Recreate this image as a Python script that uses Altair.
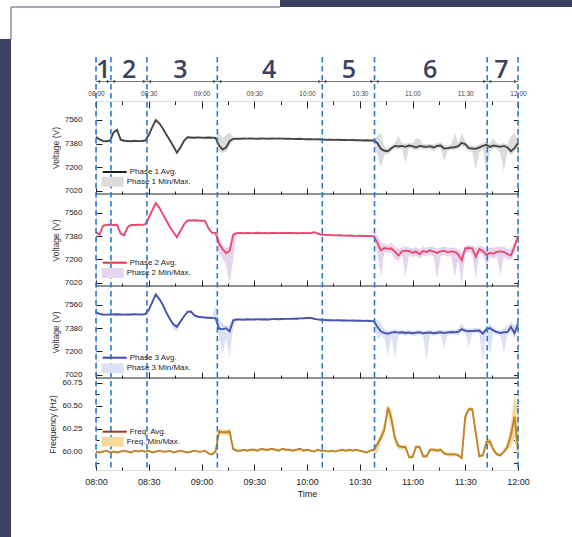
import altair as alt
import pandas as pd

# ---------------- data (minutes after 08:00, 2-minute grid) ----------------
T = list(range(0, 241, 2))

P1_AVG = [7430, 7412, 7400, 7398, 7402, 7465, 7485, 7410, 7402, 7400,
          7398, 7401, 7399, 7400, 7403, 7445, 7505, 7560, 7535, 7495,
          7450, 7405, 7360, 7310, 7350, 7400, 7428, 7426, 7424, 7427,
          7425, 7424, 7426, 7425, 7423, 7365, 7335, 7350, 7400, 7416,
          7418, 7417, 7419, 7418, 7420, 7418, 7417, 7419, 7418, 7417,
          7419, 7418, 7420, 7418, 7417, 7418, 7416, 7415, 7417, 7414,
          7413, 7414, 7412, 7413, 7411, 7410, 7409, 7410, 7408, 7409,
          7407, 7408, 7406, 7407, 7405, 7406, 7404, 7405, 7404, 7403,
          7385, 7340, 7325, 7322, 7345, 7362, 7358, 7362, 7355, 7365,
          7360, 7350, 7362, 7358, 7355, 7360, 7350, 7362, 7365, 7342,
          7345, 7350, 7352, 7360, 7385, 7375, 7345, 7342, 7340, 7350,
          7362, 7370, 7355, 7365, 7360, 7355, 7362, 7350, 7322, 7345,
          7385]
P1_MIN = [7420, 7404, 7393, 7391, 7394, 7455, 7475, 7400, 7395, 7393,
          7391, 7394, 7392, 7393, 7395, 7436, 7496, 7550, 7526, 7486,
          7441, 7396, 7351, 7300, 7341, 7391, 7420, 7419, 7417, 7420,
          7418, 7417, 7419, 7418, 7416, 7320, 7310, 7315, 7370, 7405,
          7413, 7412, 7414, 7413, 7415, 7413, 7412, 7414, 7413, 7412,
          7414, 7413, 7415, 7413, 7412, 7413, 7411, 7410, 7412, 7409,
          7408, 7409, 7407, 7408, 7406, 7405, 7404, 7405, 7403, 7404,
          7402, 7403, 7401, 7402, 7400, 7401, 7399, 7400, 7399, 7396,
          7300, 7195, 7290, 7300, 7325, 7340, 7338, 7340, 7230, 7345,
          7338, 7330, 7342, 7336, 7335, 7338, 7320, 7340, 7345, 7245,
          7325, 7330, 7332, 7338, 7360, 7350, 7320, 7318, 7180, 7310,
          7340, 7145, 7320, 7342, 7338, 7300, 7165, 7320, 7290, 7320,
          7360]
P1_MAX = [7440, 7420, 7407, 7405, 7410, 7475, 7495, 7420, 7409, 7407,
          7405, 7408, 7406, 7407, 7411, 7454, 7514, 7570, 7544, 7504,
          7459, 7414, 7369, 7320, 7359, 7409, 7436, 7433, 7431, 7434,
          7432, 7431, 7433, 7432, 7430, 7470, 7420, 7445, 7465, 7428,
          7423, 7422, 7424, 7423, 7425, 7423, 7422, 7424, 7423, 7422,
          7424, 7423, 7425, 7423, 7422, 7423, 7421, 7420, 7422, 7419,
          7418, 7419, 7417, 7418, 7416, 7415, 7414, 7415, 7413, 7414,
          7412, 7413, 7411, 7412, 7410, 7411, 7409, 7410, 7409, 7410,
          7440, 7460, 7360, 7345, 7365, 7385, 7440, 7385, 7378, 7385,
          7380, 7420, 7415, 7378, 7375, 7380, 7372, 7385, 7390, 7365,
          7365, 7372, 7460, 7385, 7460, 7400, 7368, 7365, 7362, 7372,
          7385, 7395, 7378, 7420, 7380, 7378, 7385, 7372, 7440, 7460,
          7405]

P2_AVG = [7411, 7390, 7460, 7467, 7468, 7466, 7467, 7400, 7385, 7450,
          7467, 7466, 7468, 7467, 7470, 7520, 7580, 7635, 7600, 7550,
          7500, 7450, 7410, 7372, 7420, 7470, 7500, 7500, 7502, 7500,
          7499, 7498, 7440, 7405, 7405, 7320, 7280, 7250, 7265, 7390,
          7403, 7404, 7402, 7405, 7403, 7404, 7406, 7403, 7404, 7402,
          7405, 7404, 7403, 7405, 7404, 7405, 7404, 7402, 7403, 7404,
          7403, 7403, 7410, 7400, 7392, 7390, 7389, 7388, 7386, 7387,
          7385, 7384, 7385, 7383, 7382, 7383, 7381, 7382, 7380, 7380,
          7330, 7270, 7288, 7282, 7284, 7260, 7230, 7262, 7268, 7265,
          7250, 7262, 7240, 7265, 7258, 7270, 7260, 7250, 7262, 7268,
          7255, 7262, 7258, 7240, 7195, 7285, 7288, 7286, 7220, 7280,
          7265, 7235, 7250, 7245, 7258, 7262, 7258, 7240, 7232, 7300,
          7380]
P2_MIN = [7403, 7382, 7452, 7459, 7460, 7458, 7459, 7390, 7377, 7440,
          7459, 7458, 7460, 7459, 7462, 7510, 7570, 7622, 7588, 7540,
          7490, 7440, 7400, 7362, 7410, 7460, 7492, 7492, 7494, 7492,
          7491, 7490, 7430, 7397, 7397, 7250, 7205, 7150, 7005, 7200,
          7396, 7397, 7395, 7398, 7396, 7397, 7399, 7396, 7397, 7395,
          7398, 7397, 7396, 7398, 7397, 7398, 7397, 7395, 7396, 7397,
          7396, 7396, 7403, 7393, 7385, 7383, 7382, 7381, 7379, 7380,
          7378, 7377, 7378, 7376, 7375, 7376, 7374, 7375, 7373, 7372,
          7250, 7066, 7255, 7250, 7250, 7200, 7190, 7230, 7066, 7235,
          7215, 7230, 7205, 7230, 7220, 7235, 7225, 7050, 7225, 7235,
          7220, 7225, 7066, 7200, 7002, 7250, 7255, 7240, 7050, 7245,
          7230, 7150, 7215, 7205, 7220, 7076, 7220, 7200, 7195, 7250,
          7340]
P2_MAX = [7419, 7398, 7468, 7475, 7476, 7474, 7475, 7410, 7393, 7460,
          7475, 7474, 7476, 7475, 7478, 7530, 7590, 7648, 7612, 7560,
          7510, 7460, 7420, 7382, 7430, 7480, 7508, 7508, 7510, 7508,
          7507, 7506, 7450, 7413, 7413, 7380, 7310, 7290, 7300, 7410,
          7410, 7411, 7409, 7412, 7410, 7411, 7413, 7410, 7411, 7409,
          7412, 7411, 7410, 7412, 7411, 7412, 7411, 7409, 7410, 7411,
          7410, 7410, 7417, 7407, 7399, 7397, 7396, 7395, 7393, 7394,
          7392, 7391, 7392, 7390, 7389, 7390, 7388, 7389, 7387, 7390,
          7390, 7330, 7320, 7310, 7330, 7300, 7280, 7295, 7300, 7295,
          7285, 7295, 7280, 7300, 7290, 7300, 7295, 7285, 7295, 7300,
          7290, 7295, 7290, 7280, 7250, 7310, 7310, 7310, 7290, 7310,
          7300, 7280, 7290, 7290, 7300, 7300, 7300, 7280, 7280, 7340,
          7405]

P3_AVG = [7502, 7490, 7485, 7484, 7486, 7485, 7487, 7485, 7484, 7486,
          7485, 7487, 7486, 7485, 7488, 7520, 7580, 7640, 7605, 7560,
          7500, 7450, 7410, 7390, 7430, 7470, 7505, 7508, 7478, 7468,
          7465, 7462, 7460, 7458, 7457, 7375, 7372, 7378, 7355, 7440,
          7446, 7447, 7445, 7448, 7446, 7447, 7449, 7446, 7448, 7447,
          7449, 7450, 7448, 7450, 7451, 7451, 7453, 7452, 7455, 7456,
          7458, 7459, 7452, 7447, 7444, 7443, 7441, 7442, 7440, 7441,
          7439, 7440, 7438, 7439, 7437, 7438, 7436, 7437, 7435, 7434,
          7390, 7355, 7342, 7337, 7345, 7350, 7345, 7348, 7342, 7346,
          7340, 7345, 7348, 7340, 7344, 7346, 7340, 7344, 7348, 7342,
          7346, 7350, 7348, 7352, 7372, 7360, 7356, 7358, 7360, 7362,
          7338, 7370, 7380, 7362, 7350, 7342, 7348, 7350, 7390, 7340,
          7413]
P3_MIN = [7492, 7480, 7476, 7475, 7477, 7476, 7478, 7476, 7475, 7477,
          7476, 7478, 7477, 7476, 7479, 7510, 7570, 7628, 7592, 7548,
          7488, 7438, 7370, 7355, 7415, 7458, 7495, 7498, 7468, 7458,
          7455, 7452, 7450, 7448, 7447, 7300, 7184, 7300, 7158, 7380,
          7438, 7439, 7437, 7440, 7438, 7439, 7441, 7438, 7440, 7439,
          7441, 7442, 7440, 7442, 7443, 7443, 7445, 7444, 7447, 7448,
          7450, 7451, 7444, 7439, 7436, 7435, 7433, 7434, 7432, 7433,
          7431, 7432, 7430, 7431, 7429, 7430, 7428, 7429, 7427, 7426,
          7300, 7320, 7300, 7171, 7320, 7145, 7325, 7330, 7320, 7328,
          7322, 7320, 7330, 7320, 7133, 7328, 7320, 7326, 7330, 7222,
          7328, 7330, 7330, 7320, 7350, 7340, 7235, 7338, 7340, 7340,
          7120, 7350, 7171, 7340, 7330, 7320, 7184, 7330, 7360, 7300,
          7380]
P3_MAX = [7512, 7500, 7494, 7493, 7495, 7494, 7496, 7494, 7493, 7495,
          7494, 7496, 7495, 7494, 7497, 7530, 7590, 7652, 7618, 7572,
          7512, 7462, 7425, 7400, 7445, 7482, 7515, 7518, 7488, 7478,
          7475, 7472, 7470, 7468, 7560, 7450, 7420, 7400, 7400, 7460,
          7454, 7455, 7453, 7456, 7454, 7455, 7457, 7454, 7456, 7455,
          7457, 7458, 7456, 7458, 7459, 7459, 7461, 7460, 7463, 7464,
          7466, 7467, 7460, 7455, 7452, 7451, 7449, 7450, 7448, 7449,
          7447, 7448, 7446, 7447, 7445, 7446, 7444, 7445, 7443, 7445,
          7445, 7420, 7370, 7360, 7365, 7372, 7365, 7368, 7362, 7366,
          7360, 7365, 7368, 7360, 7365, 7366, 7360, 7365, 7370, 7362,
          7366, 7370, 7368, 7375, 7420, 7380, 7376, 7378, 7380, 7385,
          7360, 7400, 7410, 7385, 7370, 7362, 7380, 7400, 7430, 7400,
          7440]

F_AVG = [60.00, 59.99, 60.00, 60.01, 59.99, 60.00, 59.99, 60.00, 60.01, 60.00,
         59.99, 60.01, 60.00, 60.01, 60.00, 60.01, 59.99, 60.00, 60.01, 60.00,
         60.00, 60.01, 59.99, 60.00, 60.01, 60.00, 59.99, 60.00, 60.01, 60.00,
         60.00, 60.01, 59.98, 59.97, 60.00, 60.22, 60.21, 60.21, 60.22, 60.03,
         60.01, 60.01, 60.02, 60.01, 60.02, 60.02, 60.01, 60.03, 60.02, 60.02,
         60.03, 60.02, 60.01, 60.03, 60.02, 60.02, 60.01, 60.02, 60.03, 60.01,
         60.02, 60.01, 60.00, 60.02, 60.01, 60.01, 60.00, 60.01, 60.00, 60.01,
         60.02, 60.01, 60.02, 60.01, 60.02, 60.01, 60.00, 59.99, 60.01, 60.02,
         60.08, 60.15, 60.24, 60.48, 60.36, 60.15, 60.06, 60.05, 60.05, 59.94,
         59.94, 60.05, 60.05, 59.95, 59.95, 60.02, 60.02, 60.01, 60.02, 59.98,
         59.97, 59.97, 59.97, 59.96, 59.93, 60.38, 60.46, 60.46, 60.20, 59.95,
         59.96, 60.10, 60.11, 60.02, 59.97, 59.96, 60.00, 60.05, 60.18, 60.38,
         60.03]
F_MIN = [59.99, 59.98, 59.99, 60.00, 59.98, 59.99, 59.98, 59.99, 60.00, 59.99,
         59.98, 60.00, 59.99, 60.00, 59.99, 60.00, 59.98, 59.99, 60.00, 59.99,
         59.99, 60.00, 59.98, 59.99, 60.00, 59.99, 59.98, 59.99, 60.00, 59.99,
         59.99, 60.00, 59.97, 59.96, 59.98, 60.19, 60.18, 60.18, 60.17, 60.01,
         60.00, 60.00, 60.01, 60.00, 60.01, 60.01, 60.00, 60.02, 60.01, 60.01,
         60.02, 60.01, 60.00, 60.02, 60.01, 60.01, 60.00, 60.01, 60.02, 60.00,
         60.01, 60.00, 59.99, 60.01, 60.00, 60.00, 59.99, 60.00, 59.99, 60.00,
         60.01, 60.00, 60.01, 60.00, 60.01, 60.00, 59.99, 59.98, 60.00, 59.99,
         59.97, 60.10, 60.18, 60.40, 60.26, 60.09, 60.03, 60.02, 60.02, 59.92,
         59.92, 60.03, 60.03, 59.93, 59.93, 60.00, 60.00, 59.99, 60.00, 59.96,
         59.95, 59.95, 59.95, 59.94, 59.91, 60.30, 60.44, 60.44, 60.12, 59.93,
         59.94, 60.06, 60.07, 59.99, 59.95, 59.94, 59.98, 60.02, 60.05, 60.15,
         59.88]
F_MAX = [60.01, 60.00, 60.01, 60.02, 60.00, 60.01, 60.00, 60.01, 60.02, 60.01,
         60.00, 60.02, 60.01, 60.02, 60.01, 60.02, 60.00, 60.01, 60.02, 60.01,
         60.01, 60.02, 60.00, 60.01, 60.02, 60.01, 60.00, 60.01, 60.02, 60.01,
         60.01, 60.02, 59.99, 59.98, 60.03, 60.25, 60.24, 60.24, 60.25, 60.05,
         60.02, 60.02, 60.03, 60.02, 60.03, 60.03, 60.02, 60.04, 60.03, 60.03,
         60.04, 60.03, 60.02, 60.04, 60.03, 60.03, 60.02, 60.03, 60.04, 60.02,
         60.03, 60.02, 60.01, 60.03, 60.02, 60.02, 60.01, 60.02, 60.01, 60.02,
         60.03, 60.02, 60.03, 60.02, 60.03, 60.02, 60.01, 60.00, 60.02, 60.04,
         60.12, 60.20, 60.32, 60.51, 60.46, 60.20, 60.08, 60.07, 60.08, 59.96,
         59.96, 60.07, 60.07, 59.97, 59.97, 60.04, 60.04, 60.03, 60.04, 60.00,
         59.99, 59.99, 59.99, 59.98, 59.95, 60.42, 60.48, 60.48, 60.26, 59.97,
         59.98, 60.14, 60.15, 60.05, 59.99, 59.98, 60.02, 60.12, 60.30, 60.62,
         60.45]

NAMES = [["Phase 1 Avg.", "Phase 1 Min/Max."],
         ["Phase 2 Avg.", "Phase 2 Min/Max."],
         ["Phase 3 Avg.", "Phase 3 Min/Max."],
         ["Freq. Avg.", "Freq. Min/Max."]]
Y_TITLES = ["Voltage (V)", "Voltage (V)", "Voltage (V)", "Frequency (Hz)"]

DASH_T = [0, 8.5, 29, 69, 128.7, 158.4, 222.5, 240]
SEG_LABELS = ["1", "2", "3", "4", "5", "6", "7"]
SEG_MID = [4.2, 18.8, 48.0, 98.5, 143.8, 190.0, 230.5]

MAJOR_T = [0, 30, 60, 90, 120, 150, 180, 210, 240]
MINOR_T = [15, 45, 75, 105, 135, 165, 195, 225]
TIME_LABELS = ["08:00", "08:30", "09:00", "09:30", "10:00", "10:30", "11:00", "11:30", "12:00"]
V_TICKS = [7020, 7200, 7380, 7560]
F_TICKS = [60.0, 60.25, 60.5, 60.75]
F_MINOR = [59.875, 60.125, 60.375, 60.625]

# ---------------- layout / styling ----------------
FONT = "Liberation Sans"
INK = "#222222"
NAVY = "#3c4162"
BLUE = "#2b7bd0"
W = 422
HT = 369
PANEL_TOP = [0, 93, 185, 277]
PANEL_BOT = [93, 185, 277, 369]
X_DOMAIN = [0, 240]
V_DOMAIN = [6995, 7705]
F_DOMAIN = [59.8, 60.8]
RECT_PATH = "M-1,-0.45L1,-0.45L1,0.45L-1,0.45Z"
LABEL_EXPR = "[" + ",".join("'%s'" % s for s in TIME_LABELS) + "][round(datum.value / 30)]"

COLORS = [("#464646", "#dcdcdc", "#1e1e1e"),
          ("#ea4a6d", "#e6d5ee", "#e5333f"),
          ("#4955b0", "#dde1f4", "#3e4bb0"),
          ("#bf832c", "#f5d89c", "#8e3f1c")]
LEGEND_Y = [(58, 69.7), (148.7, 161), (243.7, 256.3), (317.7, 329.7)]

for arr in [P1_AVG, P1_MIN, P1_MAX, P2_AVG, P2_MIN, P2_MAX, P3_AVG, P3_MIN, P3_MAX, F_AVG, F_MIN, F_MAX]:
    assert len(arr) == len(T), len(arr)


def series(avg, lo, hi, names):
    return pd.DataFrame({"t": T, "avg": avg, "lo": lo, "hi": hi,
                         "avg_name": names[0], "band_name": names[1]})


DATA = [series(P1_AVG, P1_MIN, P1_MAX, NAMES[0]),
        series(P2_AVG, P2_MIN, P2_MAX, NAMES[1]),
        series(P3_AVG, P3_MIN, P3_MAX, NAMES[2]),
        series(F_AVG, F_MIN, F_MAX, NAMES[3])]
DASH = pd.DataFrame({"tv": DASH_T})
SEGS = pd.DataFrame({"s": DASH_T[:-1], "e": DASH_T[1:], "m": SEG_MID, "lab": SEG_LABELS})
ONE = pd.DataFrame({"k": [0]})

XS = alt.Scale(domain=X_DOMAIN, nice=False, zero=False)


def X(field, axis=None):
    return alt.X(field, type="quantitative", scale=XS, axis=axis)


def tick_axis(orient, offset, size, values):
    return alt.Axis(orient=orient, offset=offset, tickSize=size, values=values, labels=False,
                    domain=False, grid=False, ticks=True, tickColor=INK, tickWidth=1, title=None)


layers = []


def rect(x1, x2, y1, y2, color, opacity=1):
    return alt.Chart(ONE).mark_rect(color=color, opacity=opacity).encode(
        x=alt.value(x1), x2=alt.value(x2), y=alt.value(y1), y2=alt.value(y2))


# page decoration: invisible page-sized box (sets the canvas), dark bars, thin grey border
layers.append(rect(-96, 476, -101, 436, "white", 0))
layers.append(rect(184, 476, -101, -94, NAVY))
layers.append(rect(-96, -85, -62, 436, NAVY))
layers.append(alt.Chart(ONE).mark_rule(color="#8a8d9c", strokeWidth=1.5).encode(
    x=alt.value(-85), x2=alt.value(184), y=alt.value(-94)))
layers.append(alt.Chart(ONE).mark_rule(color="#8a8d9c", strokeWidth=1.5).encode(
    x=alt.value(-85), y=alt.value(-94), y2=alt.value(-62)))

for i in range(4):
    df = DATA[i]
    freq = i == 3
    ydom = F_DOMAIN if freq else V_DOMAIN
    yticks = F_TICKS if freq else V_TICKS
    yminor = F_MINOR if freq else []
    line_c, band_c, legend_c = COLORS[i]
    ys = alt.Scale(domain=ydom, range=[PANEL_BOT[i], PANEL_TOP[i]], nice=False, zero=False)

    def Y(field, axis=None):
        return alt.Y(field, type="quantitative", scale=ys, axis=axis)

    layers.append(alt.Chart(df).mark_area().encode(
        x=X("t"), y=Y("lo"), y2="hi:Q",
        fill=alt.Fill("band_name:N",
                      scale=alt.Scale(domain=[NAMES[i][1]], range=[band_c]),
                      legend=alt.Legend(orient="none", legendX=5.7, legendY=LEGEND_Y[i][1], title=None,
                                        symbolType=RECT_PATH, symbolSize=484, symbolStrokeWidth=0,
                                        labelFontSize=8, labelFont=FONT, labelColor=INK,
                                        labelOffset=3, padding=0))))

    left_axis = alt.Axis(orient="left", values=yticks, format=".2f" if freq else "d",
                         ticks=False, tickSize=0, domain=False, grid=False, labelPadding=14,
                         labelFontSize=8, labelFont=FONT, labelColor=INK,
                         title=Y_TITLES[i], titleFontSize=8.5, titleFont=FONT,
                         titleFontWeight="normal", titleColor="#333333", titlePadding=4)
    layers.append(alt.Chart(df).mark_line(strokeWidth=1.9, color=line_c).encode(
        x=X("t"), y=Y("avg", left_axis)))

    layers.append(alt.Chart(df).transform_filter("false").mark_line().encode(
        x=X("t", tick_axis("top", -PANEL_BOT[i], 6, MAJOR_T)),
        y=Y("avg", tick_axis("right", -W, 6, yticks)),
        stroke=alt.Stroke("avg_name:N",
                          scale=alt.Scale(domain=[NAMES[i][0]], range=[legend_c]),
                          legend=alt.Legend(orient="none", legendX=5.7, legendY=LEGEND_Y[i][0], title=None,
                                            symbolType="stroke", symbolSize=576, symbolStrokeWidth=2,
                                            labelFontSize=8, labelFont=FONT, labelColor=INK,
                                            labelOffset=2, padding=0))))

    layers.append(alt.Chart(df).transform_filter("false").mark_point().encode(
        x=X("t", tick_axis("top", -PANEL_BOT[i], 3, MINOR_T)),
        y=Y("avg", tick_axis("left", -W, 4.5, yticks + yminor))))

    if freq:
        layers.append(alt.Chart(df).transform_filter("false").mark_point().encode(
            x=X("t"), y=Y("avg", tick_axis("right", -W, 3, yminor))))

# panel separators
for yb in PANEL_BOT[:-1]:
    layers.append(alt.Chart(ONE).mark_rule(color=INK, strokeWidth=1).encode(
        x=alt.value(0), x2=alt.value(W), y=alt.value(yb)))

bottom_axis = alt.Axis(orient="bottom", values=MAJOR_T, labelExpr=LABEL_EXPR, ticks=False,
                       tickSize=0, domain=False, grid=False, labelPadding=7.5,
                       labelFontSize=9, labelFont=FONT, labelColor=INK, labelFlush=False,
                       title="Time", titleFontSize=9, titleFont=FONT,
                       titleFontWeight="normal", titleColor=INK, titlePadding=3)
layers.append(alt.Chart(DASH).mark_rule(color=BLUE, strokeWidth=1.6, strokeDash=[5.5, 3.5]).encode(
    x=X("tv", bottom_axis), y=alt.value(-44), y2=alt.value(HT)))

top_labels = alt.Axis(orient="top", values=MAJOR_T, labelExpr=LABEL_EXPR, ticks=False,
                      tickSize=0, domain=False, grid=False, labelPadding=5,
                      labelFontSize=6.5, labelFont=FONT, labelColor="#444444",
                      labelFlush=False, title=None)
layers.append(alt.Chart(SEGS).mark_text(font="Open Sans", fontSize=25, fontWeight=600,
                                        color=NAVY, baseline="middle", align="center").encode(
    x=X("m", top_labels), y=alt.value(-31), text="lab:N"))
layers.append(alt.Chart(SEGS).mark_rule(color="#555555", strokeWidth=0.8).encode(
    x=X("s", tick_axis("bottom", -HT, 7, MAJOR_T)), x2="e:Q", y=alt.value(-19.5)))
layers.append(alt.Chart(SEGS).mark_point(shape="triangle-left", filled=True, size=14,
                                         color="#555555", opacity=1, xOffset=2.5).encode(
    x=X("s", tick_axis("bottom", -HT, 3.5, MINOR_T)), y=alt.value(-19.5)))
layers.append(alt.Chart(SEGS).mark_point(shape="triangle-right", filled=True, size=14,
                                         color="#555555", opacity=1, xOffset=-2.5).encode(
    x=X("e"), y=alt.value(-19.5)))

chart = alt.layer(*layers).resolve_scale(
    y="independent", stroke="independent", fill="independent").resolve_axis(
    x="independent", y="independent").resolve_legend(
    stroke="independent", fill="independent").properties(
    width=W, height=HT, padding=0).configure_view(
    stroke=INK, strokeWidth=1).configure(background="white")

chart.save("out.html", embed_options={"renderer": "svg", "actions": False})
